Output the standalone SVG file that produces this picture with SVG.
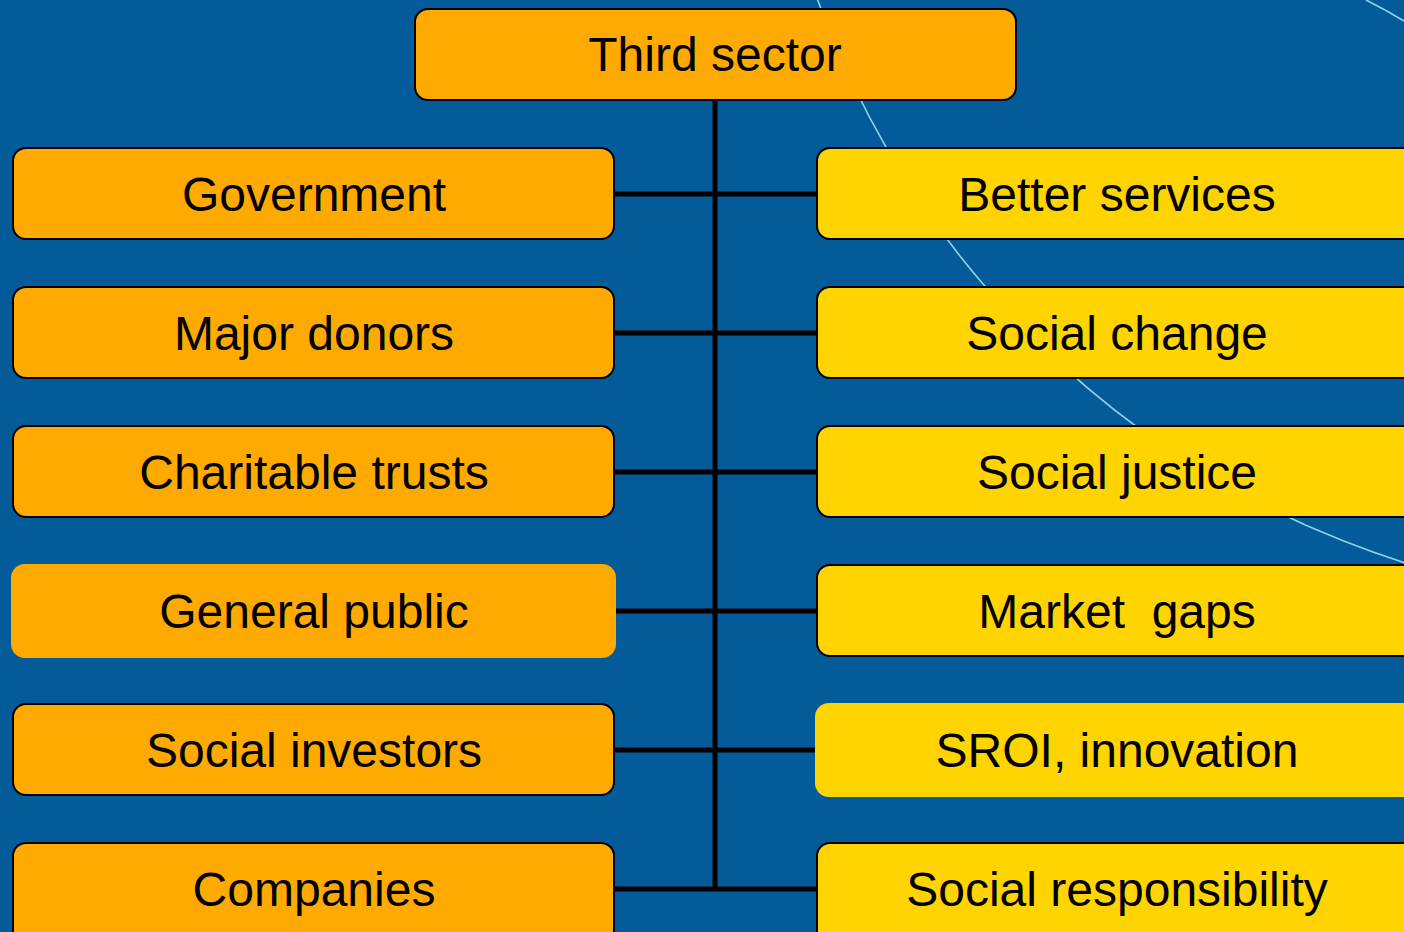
<svg xmlns="http://www.w3.org/2000/svg" width="1404" height="932" viewBox="0 0 1404 932">
  <style>
    .bg { fill: #045b9a; }
    .arc { fill: none; stroke: #8fd3ee; stroke-width: 1.6; }
    .src { fill: #ffaa00; stroke: #000; stroke-width: 2; }
    .out { fill: #ffd400; stroke: #000; stroke-width: 2; }
    .flat { stroke: none; }
    .link { fill: none; stroke: #000; stroke-width: 5; }
    text { font-family: "Liberation Sans", Arial, sans-serif; font-size: 48px; fill: #000; text-anchor: middle; }
  </style>

  <!-- backdrop with two faint concentric arcs -->
  <rect class="bg" x="0" y="0" width="1404" height="932"/>
  <circle class="arc" cx="1680" cy="-312" r="917"/>
  <path class="arc" d="M1366,0 Q1386,10 1404,21"/>

  <!-- connectors: central trunk and row branches -->
  <g id="connectors">
    <line class="link" x1="715" y1="100" x2="715" y2="891"/>
    <line class="link" x1="614" y1="194" x2="817" y2="194"/>
    <line class="link" x1="614" y1="333" x2="817" y2="333"/>
    <line class="link" x1="614" y1="472" x2="817" y2="472"/>
    <line class="link" x1="614" y1="611" x2="817" y2="611"/>
    <line class="link" x1="614" y1="750" x2="817" y2="750"/>
    <line class="link" x1="614" y1="889" x2="817" y2="889"/>
  </g>

  <!-- root -->
  <g id="third-sector">
    <rect class="src" x="415" y="9" width="601" height="91" rx="13"/>
    <text x="715" y="71">Third sector</text>
  </g>

  <!-- funding sources (left column) -->
  <g id="government">
    <rect class="src" x="13" y="148" width="601" height="91" rx="13"/>
    <text x="314" y="211">Government</text>
  </g>
  <g id="major-donors">
    <rect class="src" x="13" y="287" width="601" height="91" rx="13"/>
    <text x="314" y="350">Major donors</text>
  </g>
  <g id="charitable-trusts">
    <rect class="src" x="13" y="426" width="601" height="91" rx="13"/>
    <text x="314" y="489">Charitable trusts</text>
  </g>
  <g id="general-public">
    <rect class="src flat" x="11" y="564" width="605" height="94" rx="14"/>
    <text x="314" y="628">General public</text>
  </g>
  <g id="social-investors">
    <rect class="src" x="13" y="704" width="601" height="91" rx="13"/>
    <text x="314" y="767">Social investors</text>
  </g>
  <g id="companies">
    <rect class="src" x="13" y="843" width="601" height="100" rx="13"/>
    <text x="314" y="906">Companies</text>
  </g>

  <!-- outcomes (right column) -->
  <g id="better-services">
    <rect class="out" x="817" y="148" width="601" height="91" rx="13"/>
    <text x="1117" y="211">Better services</text>
  </g>
  <g id="social-change">
    <rect class="out" x="817" y="287" width="601" height="91" rx="13"/>
    <text x="1117" y="350">Social change</text>
  </g>
  <g id="social-justice">
    <rect class="out" x="817" y="426" width="601" height="91" rx="13"/>
    <text x="1117" y="489">Social justice</text>
  </g>
  <g id="market-gaps">
    <rect class="out" x="817" y="565" width="601" height="91" rx="13"/>
    <text x="1117" y="628" xml:space="preserve">Market  gaps</text>
  </g>
  <g id="sroi-innovation">
    <rect class="out flat" x="815" y="703" width="605" height="94" rx="14"/>
    <text x="1117" y="767">SROI, innovation</text>
  </g>
  <g id="social-responsibility">
    <rect class="out" x="817" y="843" width="601" height="100" rx="13"/>
    <text x="1117" y="906">Social responsibility</text>
  </g>
</svg>
